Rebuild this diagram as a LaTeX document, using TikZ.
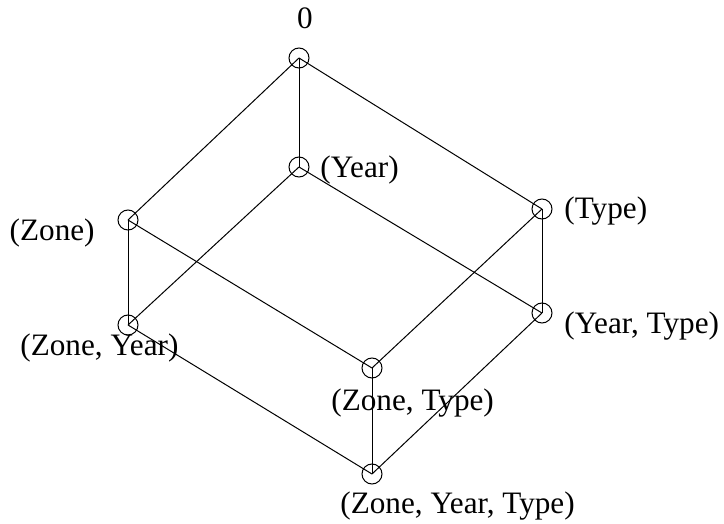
\documentclass[tikz,border=0pt]{standalone}
\usepackage{fontspec}
\setmainfont{Liberation Serif}
\begin{document}
\begin{tikzpicture}[
  x=0.5pt, y=-0.5pt,
  vertex/.style={draw, circle, inner sep=0pt, minimum size=10pt, line width=0.5pt},
  lbl/.style={inner sep=0pt, font=\fontsize{15.6}{18}\selectfont},
  edge/.style={line width=0.5pt}
]
\useasboundingbox (0,0) rectangle (724,524);
% lattice vertices
\node[vertex] (all) at (299,58) {};
\node[vertex] (year) at (299,167) {};
\node[vertex] (zone) at (128,220) {};
\node[vertex] (type) at (542,209) {};
\node[vertex] (zoneyear) at (128,325) {};
\node[vertex] (yeartype) at (542,313) {};
\node[vertex] (zonetype) at (372,368) {};
\node[vertex] (zyt) at (372,474) {};
% labels
\node[lbl] (lall) at (305,18) {0};
\node[lbl, anchor=west] (lyear) at (320,170) {(Year)};
\node[lbl, anchor=east] (lzone) at (95,233) {(Zone)};
\node[lbl, anchor=west] (ltype) at (564,211) {(Type)};
\node[lbl, anchor=west] (lyeartype) at (564,326) {(Year, Type)};
\node[lbl, anchor=west] (lzonetype) at (331,403) {(Zone, Type)};
\node[lbl, anchor=west] (lzoneyear) at (20,348) {(Zone, Year)};
\node[lbl, anchor=west] (lzyt) at (340,506) {(Zone, Year, Type)};
% edges
\draw[edge] (all.center) -- (year.center);
\draw[edge] (all.center) -- (zone.center);
\draw[edge] (all.center) -- (type.center);
\draw[edge] (year.center) -- (zoneyear.center);
\draw[edge] (year.center) -- (yeartype.center);
\draw[edge] (zone.center) -- (zoneyear.center);
\draw[edge] (zone.center) -- (zonetype.center);
\draw[edge] (type.center) -- (yeartype.center);
\draw[edge] (type.center) -- (zonetype.center);
\draw[edge] (zoneyear.center) -- (zyt.center);
\draw[edge] (yeartype.center) -- (zyt.center);
\draw[edge] (zonetype.center) -- (zyt.center);
\end{tikzpicture}
\end{document}
